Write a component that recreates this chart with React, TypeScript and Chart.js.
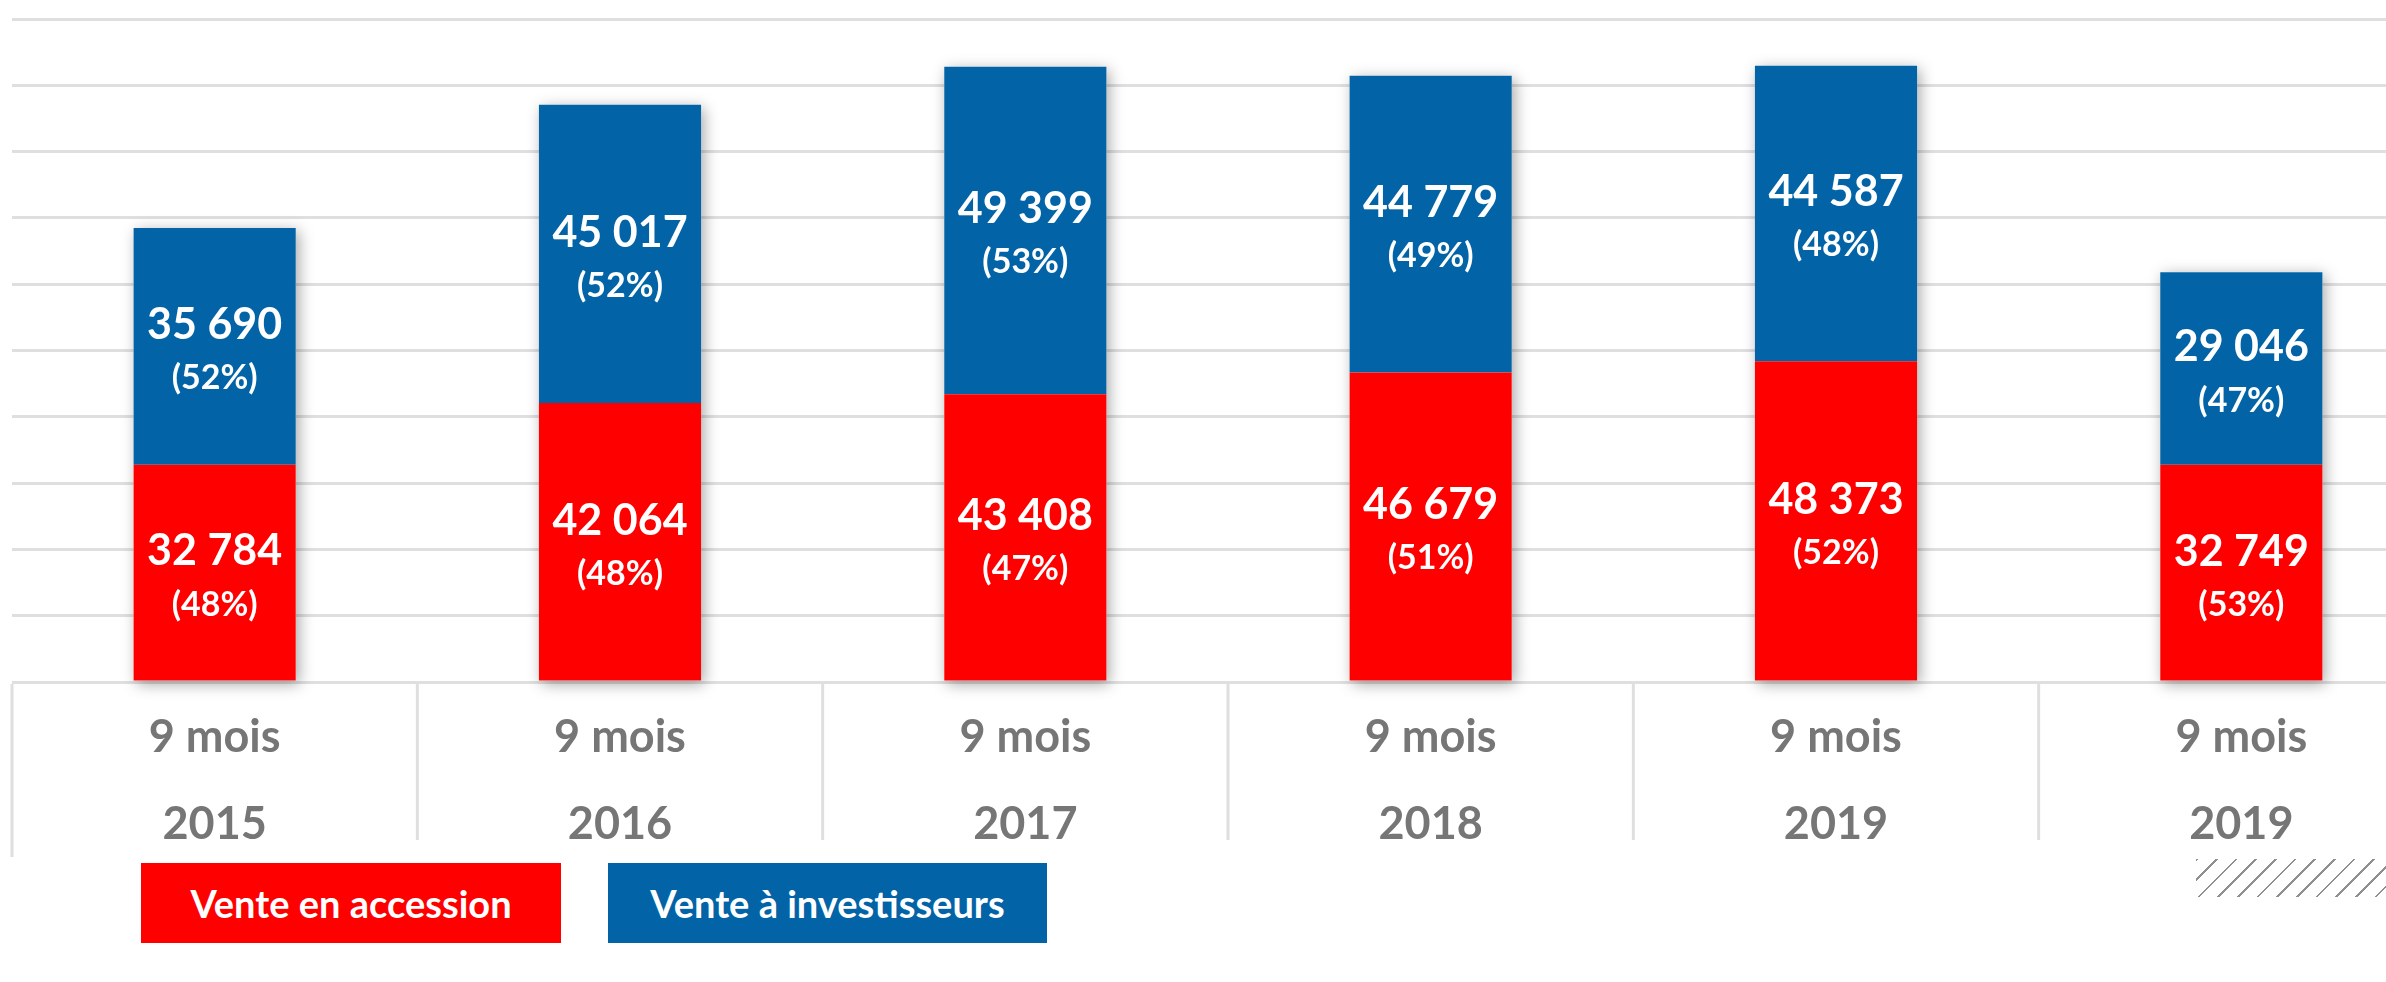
import React, { useEffect, useRef } from "react";
import { Chart, registerables } from "chart.js";

Chart.register(...registerables);

const periods = ["9 mois", "9 mois", "9 mois", "9 mois", "9 mois", "9 mois"];
const years = ["2015", "2016", "2017", "2018", "2019", "2019"];
const accession = [32784, 42064, 43408, 46679, 48373, 32749];
const investisseurs = [35690, 45017, 49399, 44779, 44587, 29046];
const accessionPct = ["48%", "48%", "47%", "51%", "52%", "53%"];
const investisseursPct = ["52%", "52%", "53%", "49%", "48%", "47%"];
const seriesNames = ["Vente en accession", "Vente à investisseurs"];
const yMin = 0;
const yMax = 100000;
const yStep = 10000;

const RED = "#FF0000";
const BLUE = "#0263A6";
const GRID = "#DFDFDF";
const AXIS_TEXT = "#767676";
const FONT = "Lato, 'Open Sans', sans-serif";

const fmt = (v: number) => String(v).replace(/\B(?=(\d{3})+(?!\d))/g, " ");

const shadowPlugin = {
  id: "stackShadow",
  beforeDatasetsDraw(chart: any) {
    const ctx = chart.ctx;
    const first = chart.getDatasetMeta(0).data;
    const last = chart.getDatasetMeta(chart.data.datasets.length - 1).data;
    first.forEach((bar: any, i: number) => {
      const b = bar.getProps(["x", "base", "width"], true);
      const t = last[i].getProps(["y"], true);
      ctx.save();
      ctx.shadowColor = "rgba(0,0,0,0.35)";
      ctx.shadowBlur = 14;
      ctx.shadowOffsetX = 3;
      ctx.shadowOffsetY = 3;
      ctx.fillStyle = "#ffffff";
      ctx.fillRect(b.x - b.width / 2, t.y, b.width, b.base - t.y);
      ctx.restore();
    });
  },
};

const labelPlugin = {
  id: "segmentLabels",
  afterDatasetsDraw(chart: any) {
    const ctx = chart.ctx;
    chart.data.datasets.forEach((ds: any, di: number) => {
      const meta = chart.getDatasetMeta(di);
      const pcts = di === 0 ? accessionPct : investisseursPct;
      meta.data.forEach((bar: any, i: number) => {
        const { x, y, base } = bar.getProps(["x", "y", "base"], true);
        const mid = (y + base) / 2;
        ctx.save();
        ctx.fillStyle = "#ffffff";
        ctx.textAlign = "center";
        ctx.textBaseline = "middle";
        ctx.font = `bold 43px ${FONT}`;
        ctx.fillText(fmt(ds.data[i]), x, mid - 21);
        ctx.font = `bold 34px ${FONT}`;
        ctx.fillText(`(${pcts[i]})`, x, mid + 32);
        ctx.restore();
      });
    });
  },
};

const separatorPlugin = {
  id: "categorySeparators",
  afterDraw(chart: any) {
    const ctx = chart.ctx;
    const xs = chart.scales.x;
    const n = chart.data.labels.length;
    const step = (xs.right - xs.left) / n;
    const bottom = chart.chartArea.bottom;
    ctx.save();
    ctx.strokeStyle = GRID;
    ctx.lineWidth = 3;
    for (let i = 0; i <= n; i++) {
      const x = xs.left + i * step;
      ctx.beginPath();
      ctx.moveTo(x, bottom + 2);
      ctx.lineTo(x, bottom + (i === 0 ? 175 : 158));
      ctx.stroke();
    }
    ctx.restore();
  },
};

export default function App() {
  const canvasRef = useRef<HTMLCanvasElement | null>(null);

  useEffect(() => {
    let chart: Chart | null = null;
    let cancelled = false;
    const build = () => {
      if (cancelled || !canvasRef.current) return;
      chart = new Chart(canvasRef.current, {
        type: "bar",
        data: {
          labels: periods.map((p, i) => [p, years[i]]),
          datasets: [
            {
              label: seriesNames[0],
              data: accession,
              backgroundColor: RED,
              barPercentage: 0.4,
              categoryPercentage: 1,
            },
            {
              label: seriesNames[1],
              data: investisseurs,
              backgroundColor: BLUE,
              barPercentage: 0.4,
              categoryPercentage: 1,
            },
          ],
        },
        options: {
          responsive: false,
          animation: false,
          layout: { padding: { left: 12, top: 19, right: 8, bottom: 0 } },
          plugins: { legend: { display: false }, tooltip: { enabled: false } },
          scales: {
            x: {
              stacked: true,
              grid: { display: false, drawTicks: false },
              border: { display: false },
              ticks: {
                color: AXIS_TEXT,
                font: { family: FONT, weight: "bold", size: 45, lineHeight: 1.93 },
                padding: 12,
                maxRotation: 0,
                autoSkip: false,
              },
              afterFit: (s: any) => {
                s.height = 300;
              },
            },
            y: {
              stacked: true,
              min: yMin,
              max: yMax,
              ticks: { display: false, stepSize: yStep },
              grid: { color: GRID, lineWidth: 3, drawTicks: false },
              border: { display: false },
              afterFit: (s: any) => {
                s.width = 0;
              },
            },
          },
        } as any,
        plugins: [shadowPlugin, labelPlugin, separatorPlugin],
      });
    };
    const fontsApi = (document as any).fonts;
    if (fontsApi && fontsApi.load) {
      Promise.all([
        fontsApi.load(`bold 43px Lato`),
        fontsApi.load(`bold 34px Lato`),
      ])
        .catch(() => {})
        .then(build);
    } else {
      build();
    }
    return () => {
      cancelled = true;
      if (chart) chart.destroy();
    };
  }, []);

  const legendBox: React.CSSProperties = {
    position: "absolute",
    top: 863,
    height: 80,
    display: "flex",
    alignItems: "center",
    justifyContent: "center",
    color: "#ffffff",
    fontFamily: FONT,
    fontWeight: 700,
    fontSize: 38,
    whiteSpace: "nowrap",
  };

  return (
    <div
      style={{
        position: "fixed",
        left: 0,
        top: 0,
        width: 2386,
        height: 982,
        overflow: "hidden",
        background: "#ffffff",
      }}
    >
      <canvas
        ref={canvasRef}
        width={2452}
        height={982}
        style={{ position: "absolute", left: 0, top: 0, width: 2452, height: 982 }}
      />
      <div style={{ ...legendBox, left: 141, width: 420, background: RED }}>{seriesNames[0]}</div>
      <div style={{ ...legendBox, left: 608, width: 439, background: BLUE }}>{seriesNames[1]}</div>
      <div
        style={{
          position: "absolute",
          left: 2196,
          top: 859,
          width: 190,
          height: 38,
          background:
            "repeating-linear-gradient(135deg, #8f8f8f 0px, #8f8f8f 1.8px, transparent 1.8px, transparent 13.9px)",
        }}
      />
    </div>
  );
}
